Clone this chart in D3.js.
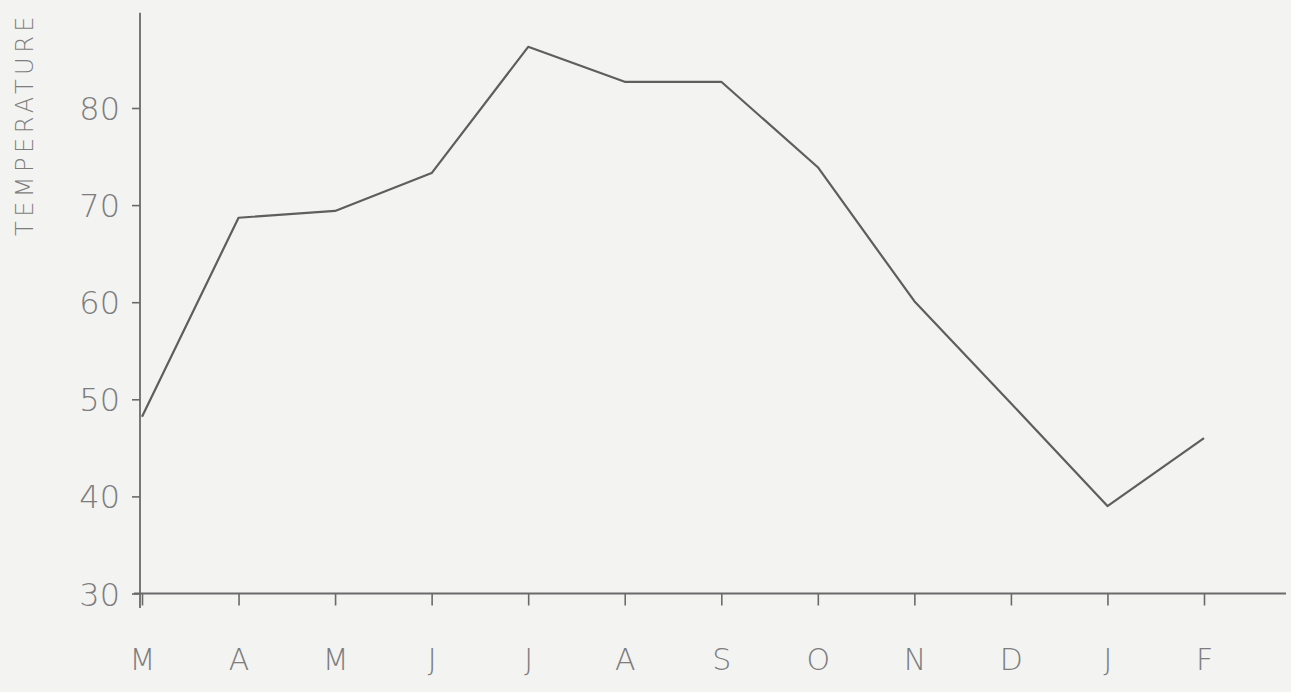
<!DOCTYPE html>
<html>
  <head>
    <title>Temperature by month</title>
    <script src="https://d3js.org/d3.v7.min.js"></script>
    <style>
    body { margin: 0; background: #f3f3f2; }
    text {
      font-family: "DejaVu Sans", sans-serif;
      font-weight: 200;
      fill: #7d7d7d;
    }
    </style>
  </head>
  <body>
      <script>
          var width = 1291;
          var height = 692;

          // data
          var months = ["M", "A", "M", "J", "J", "A", "S", "O", "N", "D", "J", "F"];
          var temps = [48.2, 68.7, 69.4, 73.3, 86.3, 82.7, 82.7, 73.9, 60.1, 49.6, 39.0, 46.0];
          var yTicks = [30, 40, 50, 60, 70, 80];
          var axisTitle = "TEMPERATURE";

          var svg = d3.select("body")
                      .append("svg")
                      .attr("width", width)
                      .attr("height", height)
                      .style("background", "#f3f3f2")

          // month index used so repeated letters stay separate points
          var x = d3.scalePoint()
                    .domain(d3.range(months.length))
                    .range([142, 1204])

          var y = d3.scaleLinear()
                    .domain([30, 80])
                    .range([593.5, 108])

          var ink = "#6a6a6a";

          // y axis
          var yAxis = d3.axisLeft(y)
                        .tickValues(yTicks)
                        .tickSize(8)
                        .tickPadding(12)
                        .tickFormat(d3.format("d"))

          var gy = svg.append("g")
                      .attr("transform", "translate(140,0)")
                      .call(yAxis)
          gy.select(".domain").remove()
          gy.selectAll(".tick line").attr("stroke", ink).attr("stroke-width", 1.6)
          gy.selectAll(".tick text")
            .style("font-size", "32px")
            .attr("fill", "#767676")
            .attr("dy", "0.36em")

          gy.append("line")
            .attr("x1", 0).attr("x2", 0)
            .attr("y1", y(89.8)).attr("y2", y(28.5))
            .attr("stroke", ink)
            .attr("stroke-width", 1.8)

          // x axis
          var xAxis = d3.axisBottom(x)
                        .tickSize(12)
                        .tickPadding(43)
                        .tickFormat(function(i){ return months[i] })

          var gx = svg.append("g")
                      .attr("transform", "translate(0," + y(30) + ")")
                      .call(xAxis)
          gx.select(".domain").remove()
          gx.selectAll(".tick line").attr("stroke", ink).attr("stroke-width", 1.6)
          gx.selectAll(".tick text")
            .style("font-size", "30px")
            .attr("fill", "#767676")

          gx.append("line")
            .attr("x1", 134).attr("x2", 1286)
            .attr("y1", 0).attr("y2", 0)
            .attr("stroke", ink)
            .attr("stroke-width", 1.8)

          // axis title
          svg.append("text")
             .attr("transform", "translate(33,236) rotate(-90)")
             .style("font-size", "24px")
             .style("letter-spacing", "4.5px")
             .text(axisTitle)

          // temperature line
          var line = d3.line()
                       .x(function(d, i){ return x(i) })
                       .y(function(d){ return y(d) })

          svg.append("path")
             .datum(temps)
             .attr("d", line)
             .attr("fill", "none")
             .attr("stroke", "#5e5e5e")
             .attr("stroke-width", 2.2)
             .attr("stroke-linejoin", "round")

      </script>
  </body>
</html>
